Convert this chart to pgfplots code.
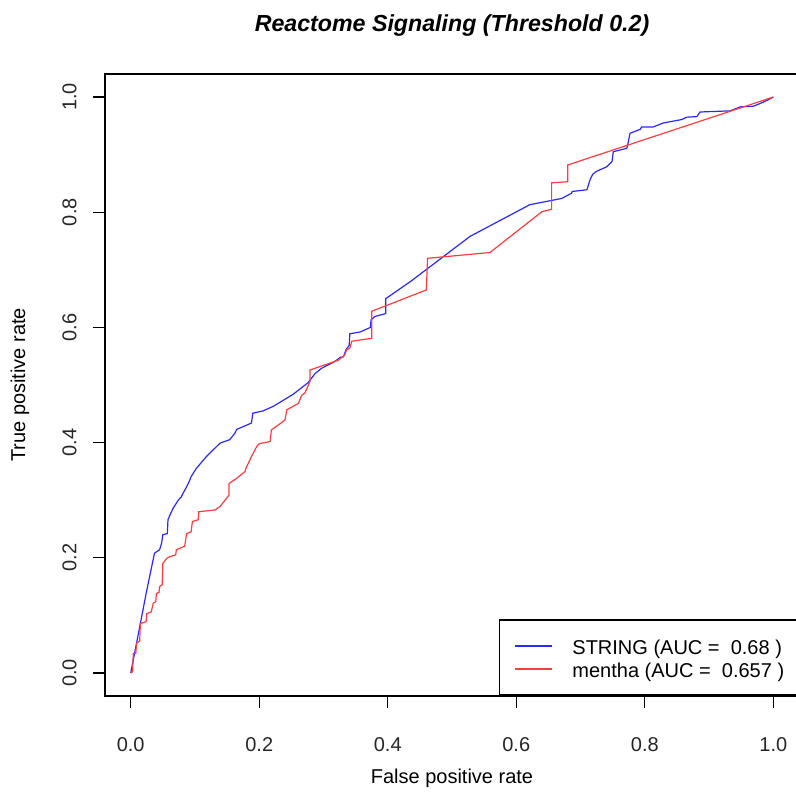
\documentclass[border=0pt]{standalone}
\usepackage{pgfplots}
\pgfplotsset{compat=1.18}
\usepackage{fontspec}
\setmainfont{Liberation Sans}
\definecolor{rblue}{RGB}{40,40,255}
\definecolor{rred}{RGB}{255,60,60}
\begin{document}
\begin{tikzpicture}
\path[use as bounding box] (0,0) rectangle (398pt,395.5pt);
\begin{axis}[
  at={(52.5pt,47.5pt)}, anchor=south west,
  scale only axis, width=347pt, height=311pt,
  xmin=-0.04, xmax=1.04, ymin=-0.04, ymax=1.04,
  axis line style={line width=0.8pt},
  xtick={0,0.2,0.4,0.6,0.8,1}, ytick={0,0.2,0.4,0.6,0.8,1},
  xtick pos=bottom, ytick pos=left,
  tick align=outside, major tick length=6pt,
  tick style={line width=0.7pt, black},
  /pgf/number format/.cd, fixed, fixed zerofill, precision=1, assume math mode=true, /pgfplots/.cd,
  ticklabel style={font=\fontsize{10}{12}\selectfont, text=black!85},
  xticklabel style={anchor=center},
  xticklabel shift=18.5pt,
  yticklabel style={rotate=90, anchor=south},
  yticklabel shift=4.65pt,
  xlabel={False positive rate}, ylabel={True positive rate},
  label style={font=\fontsize{10}{12}\selectfont},
  xlabel style={at={(axis description cs:0.5,-0.1318)}, anchor=center},
  ylabel style={at={(axis description cs:-0.1225,0.5)}, anchor=center},
  title={Reactome Signaling (Threshold 0.2)},
  title style={at={(axis description cs:0.5,1.058)}, anchor=center, font=\fontsize{11.6}{14}\selectfont\bfseries\itshape},
  legend cell align=left,
  legend style={at={(rel axis cs:1,0)}, anchor=south east, draw=black, line width=0.8pt,
    font=\fontsize{10}{12}\selectfont, inner xsep=6pt, inner ysep=7.5pt, row sep=0.5pt,
    nodes={inner ysep=0pt, inner xsep=4.5pt, text height=9.5pt, text depth=1.5pt}},
  legend image code/.code={\draw[#1, line width=1pt, shorten <=1.5pt] (0pt,0pt) -- (20pt,0pt);},
]
\addplot[rblue, line width=0.6pt] coordinates {
(0,0) (0.006,0.034) (0.014,0.080) (0.024,0.138) (0.037,0.208) (0.045,0.214)
(0.048,0.225) (0.050,0.240) (0.057,0.242) (0.058,0.266) (0.061,0.274) (0.066,0.286)
(0.074,0.300) (0.079,0.306) (0.081,0.311) (0.087,0.323) (0.092,0.335) (0.094,0.341)
(0.102,0.355) (0.118,0.376) (0.139,0.399) (0.154,0.405) (0.162,0.416) (0.165,0.423)
(0.188,0.434) (0.190,0.451) (0.206,0.455) (0.222,0.463) (0.253,0.484) (0.276,0.504)
(0.287,0.520) (0.297,0.529) (0.318,0.541) (0.326,0.548) (0.331,0.549) (0.335,0.561)
(0.340,0.569) (0.341,0.589) (0.357,0.592) (0.373,0.600) (0.374,0.613) (0.380,0.619)
(0.397,0.624) (0.397,0.650) (0.437,0.681) (0.528,0.758) (0.621,0.813) (0.671,0.824)
(0.686,0.833) (0.687,0.836) (0.710,0.839) (0.715,0.857) (0.719,0.866) (0.725,0.871)
(0.741,0.879) (0.749,0.888) (0.751,0.905) (0.772,0.911) (0.774,0.920) (0.777,0.937)
(0.793,0.944) (0.795,0.948) (0.813,0.948) (0.829,0.955) (0.858,0.961) (0.865,0.965)
(0.881,0.966) (0.886,0.974) (0.933,0.976) (0.949,0.983) (0.969,0.984) (0.980,0.989)
(0.990,0.994) (1,1)
};
\addlegendentry{\hspace*{5pt}STRING (AUC = \ 0.68 )\hspace*{-3.5pt}}
\addplot[rred, line width=0.6pt] coordinates {
(0,0) (0.003,0.002) (0.004,0.034) (0.008,0.034) (0.009,0.052) (0.014,0.055)
(0.015,0.086) (0.024,0.089) (0.025,0.103) (0.032,0.106) (0.035,0.121) (0.039,0.124)
(0.040,0.138) (0.044,0.140) (0.045,0.150) (0.049,0.153) (0.050,0.190) (0.056,0.199)
(0.061,0.202) (0.070,0.205) (0.071,0.214) (0.084,0.220) (0.087,0.242) (0.094,0.245)
(0.096,0.263) (0.105,0.266) (0.106,0.280) (0.131,0.283) (0.139,0.289) (0.149,0.303)
(0.153,0.309) (0.153,0.329) (0.165,0.338) (0.178,0.350) (0.180,0.357) (0.188,0.376)
(0.196,0.393) (0.200,0.398) (0.217,0.402) (0.219,0.422) (0.240,0.439) (0.243,0.457)
(0.261,0.468) (0.266,0.482) (0.271,0.486) (0.279,0.506) (0.279,0.526) (0.323,0.543)
(0.333,0.552) (0.336,0.561) (0.341,0.564) (0.344,0.576) (0.375,0.581) (0.375,0.628)
(0.460,0.665) (0.462,0.720) (0.559,0.730) (0.640,0.801) (0.655,0.805) (0.655,0.851)
(0.680,0.853) (0.680,0.882) (1,1)
};
\addlegendentry{\hspace*{5pt}mentha (AUC = \ 0.657 )\hspace*{-3.5pt}}
\end{axis}
\end{tikzpicture}
\end{document}
